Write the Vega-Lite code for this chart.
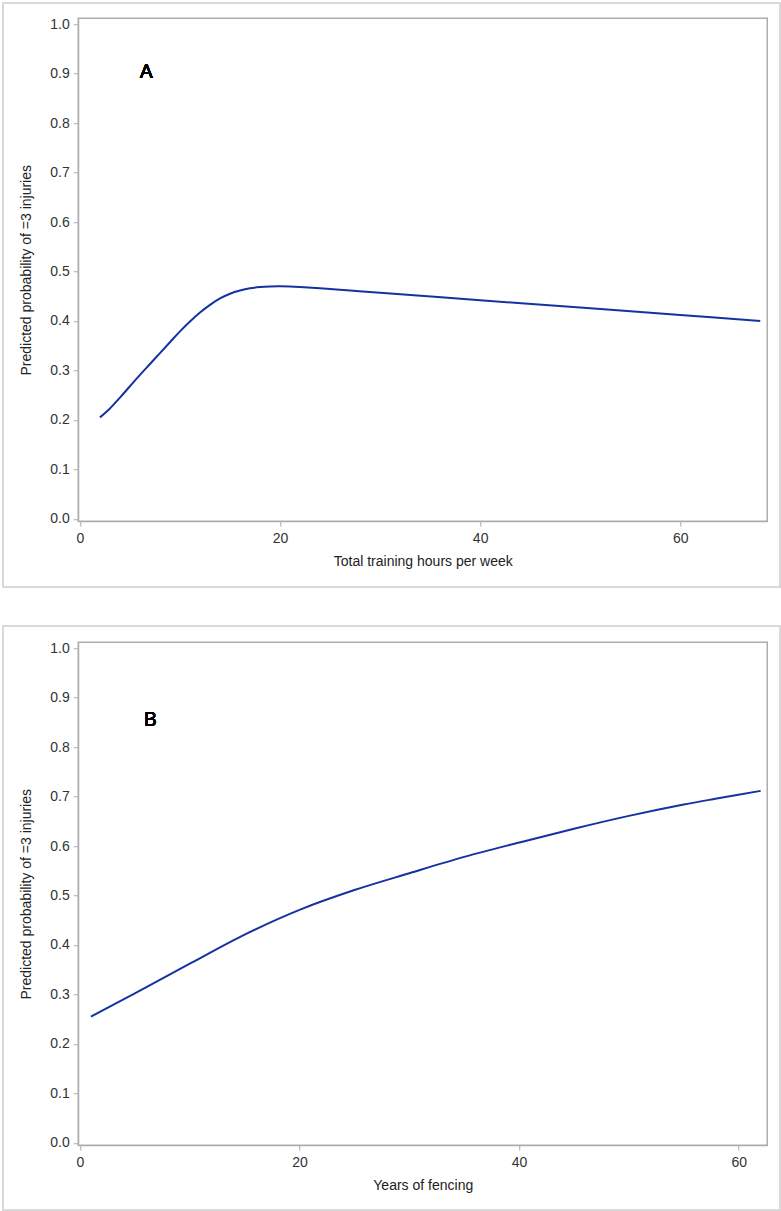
{
  "$schema": "https://vega.github.io/schema/vega-lite/v6.json",
  "padding": {"left": 1.25, "top": 1.25, "right": 0, "bottom": 0},
  "background": "white",
  "datasets": {
    "hours": [
      {"x": 2, "p": 0.205}, {"x": 3, "p": 0.223}, {"x": 4, "p": 0.245}, {"x": 5, "p": 0.268},
      {"x": 6, "p": 0.291}, {"x": 7, "p": 0.313}, {"x": 8, "p": 0.335}, {"x": 9, "p": 0.357},
      {"x": 10, "p": 0.379}, {"x": 11, "p": 0.399}, {"x": 12, "p": 0.417}, {"x": 13, "p": 0.4325},
      {"x": 14, "p": 0.4455}, {"x": 15, "p": 0.455}, {"x": 16, "p": 0.4615}, {"x": 17, "p": 0.466},
      {"x": 18, "p": 0.4685}, {"x": 19, "p": 0.4697}, {"x": 20, "p": 0.470}, {"x": 21, "p": 0.4695},
      {"x": 22, "p": 0.4685}, {"x": 24, "p": 0.466}, {"x": 27, "p": 0.4615}, {"x": 30, "p": 0.457},
      {"x": 40, "p": 0.442}, {"x": 50, "p": 0.427}, {"x": 60, "p": 0.412}, {"x": 68, "p": 0.400}
    ],
    "years": [
      {"x": 1, "p": 0.255}, {"x": 5, "p": 0.302}, {"x": 10, "p": 0.362}, {"x": 15, "p": 0.421},
      {"x": 20, "p": 0.471}, {"x": 25, "p": 0.511}, {"x": 30, "p": 0.545}, {"x": 35, "p": 0.578},
      {"x": 40, "p": 0.607}, {"x": 45, "p": 0.635}, {"x": 50, "p": 0.661}, {"x": 55, "p": 0.684},
      {"x": 58, "p": 0.696}, {"x": 62, "p": 0.7115}
    ]
  },
  "vconcat": [
    {
      "width": 689,
      "height": 503,
      "data": {"name": "hours"},
      "layer": [
        {
          "mark": {"type": "rect", "fill": null, "stroke": "#d9d9d9", "strokeWidth": 1.5, "clip": false},
          "encoding": {
            "x": {"datum": -7.67, "type": "quantitative"},
            "x2": {"datum": 70.0},
            "y": {"datum": 1.0423, "type": "quantitative"},
            "y2": {"datum": -0.1385}
          }
        },
        {
          "mark": {"type": "line", "interpolate": "catmull-rom", "color": "#1532a0", "strokeWidth": 2},
          "encoding": {
            "x": {
              "field": "x", "type": "quantitative",
              "scale": {"domain": [-0.17, 68.7], "nice": false, "zero": false},
              "axis": {"title": "Total training hours per week", "values": [0, 20, 40, 60], "format": "d"}
            },
            "y": {
              "field": "p", "type": "quantitative",
              "scale": {"domain": [-0.005, 1.012], "nice": false, "zero": false},
              "axis": {"title": "Predicted probability of =3 injuries", "values": [0, 0.1, 0.2, 0.3, 0.4, 0.5, 0.6, 0.7, 0.8, 0.9, 1.0], "format": ".1f"}
            }
          }
        },
        {
          "mark": {"type": "text", "text": "A", "font": "Open Sans", "fontWeight": "normal", "fontSize": 20, "align": "center", "baseline": "middle", "color": "#000000", "clip": false},
          "encoding": {
            "x": {"datum": 6.63, "type": "quantitative"},
            "y": {"datum": 0.904, "type": "quantitative"}
          }
        }
      ]
    },
    {
      "width": 689,
      "height": 503,
      "data": {"name": "years"},
      "layer": [
        {
          "mark": {"type": "rect", "fill": null, "stroke": "#d9d9d9", "strokeWidth": 1.5, "clip": false},
          "encoding": {
            "x": {"datum": -6.99, "type": "quantitative"},
            "x2": {"datum": 63.78},
            "y": {"datum": 1.0451, "type": "quantitative"},
            "y2": {"datum": -0.137}
          }
        },
        {
          "mark": {"type": "line", "interpolate": "catmull-rom", "color": "#1532a0", "strokeWidth": 2},
          "encoding": {
            "x": {
              "field": "x", "type": "quantitative",
              "scale": {"domain": [-0.155, 62.6], "nice": false, "zero": false},
              "axis": {"title": "Years of fencing", "values": [0, 20, 40, 60], "format": "d"}
            },
            "y": {
              "field": "p", "type": "quantitative",
              "scale": {"domain": [-0.005, 1.012], "nice": false, "zero": false},
              "axis": {"title": "Predicted probability of =3 injuries", "values": [0, 0.1, 0.2, 0.3, 0.4, 0.5, 0.6, 0.7, 0.8, 0.9, 1.0], "format": ".1f"}
            }
          }
        },
        {
          "mark": {"type": "text", "text": "B", "font": "Open Sans", "fontWeight": "normal", "fontSize": 20, "align": "center", "baseline": "middle", "color": "#000000", "clip": false},
          "encoding": {
            "x": {"datum": 6.4, "type": "quantitative"},
            "y": {"datum": 0.855, "type": "quantitative"}
          }
        }
      ]
    }
  ],
  "spacing": 121,
  "bounds": "flush",
  "resolve": {"scale": {"x": "independent", "y": "independent"}},
  "config": {
    "view": {"stroke": "#adadad", "strokeWidth": 1.5},
    "axis": {
      "grid": false,
      "labelFont": "Liberation Sans",
      "labelFontSize": 14,
      "labelColor": "#333333",
      "titleFont": "Liberation Sans",
      "titleFontSize": 14,
      "titleFontWeight": "normal",
      "titleColor": "#222222",
      "domainColor": "#adadad",
      "tickColor": "#adadad",
      "tickSize": 5,
      "labelPadding": 4
    },
    "axisX": {"titlePadding": 9, "labelPadding": 5},
    "axisY": {"titlePadding": 16}
  }
}
